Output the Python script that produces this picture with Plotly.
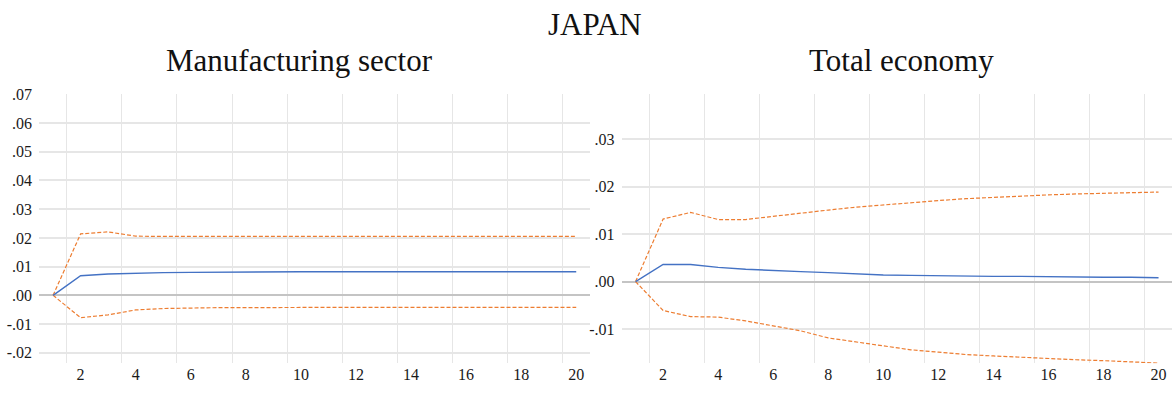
import plotly.graph_objects as go

periods = list(range(1, 21))

# Manufacturing sector
mfg_resp = [0.0, 0.0068, 0.0074, 0.0077, 0.0079, 0.0080, 0.0081, 0.0081, 0.0082, 0.0082,
            0.0082, 0.0082, 0.0082, 0.0082, 0.0082, 0.0082, 0.0082, 0.0082, 0.0082, 0.0082]
mfg_upper = [0.0, 0.0214, 0.0221, 0.0206, 0.0205, 0.0205, 0.0205, 0.0205, 0.0205, 0.0205,
             0.0205, 0.0205, 0.0205, 0.0205, 0.0205, 0.0205, 0.0205, 0.0205, 0.0205, 0.0205]
mfg_lower = [0.0, -0.0078, -0.0068, -0.0051, -0.0046, -0.0044, -0.0043, -0.0043, -0.0042, -0.0042,
             -0.0042, -0.0042, -0.0042, -0.0042, -0.0042, -0.0042, -0.0042, -0.0042, -0.0042, -0.0042]

# Total economy
tot_resp = [0.0, 0.0036, 0.0036, 0.0030, 0.0026, 0.0023, 0.0021, 0.0019, 0.0016, 0.0014,
            0.0013, 0.0012, 0.0012, 0.0011, 0.0011, 0.0010, 0.0010, 0.0009, 0.0009, 0.0008]
tot_upper = [0.0, 0.0132, 0.0146, 0.0131, 0.0131, 0.0138, 0.0145, 0.0151, 0.0157, 0.0162,
             0.0167, 0.0171, 0.0175, 0.0178, 0.0181, 0.0183, 0.0185, 0.0186, 0.0188, 0.0189]
tot_lower = [0.0, -0.0061, -0.0074, -0.0075, -0.0083, -0.0093, -0.0104, -0.0119, -0.0127, -0.0136,
             -0.0144, -0.0149, -0.0154, -0.0157, -0.0160, -0.0163, -0.0165, -0.0167, -0.0170, -0.0172]

x_tick_vals = [2, 4, 6, 8, 10, 12, 14, 16, 18, 20]
x_grid_vals = [1.5, 3.5, 5.5, 7.5, 9.5, 11.5, 13.5, 15.5, 17.5, 19.5]
mfg_yticks = [-0.02, -0.01, 0.0, 0.01, 0.02, 0.03, 0.04, 0.05, 0.06, 0.07]
mfg_ytext = ["-.02", "-.01", ".00", ".01", ".02", ".03", ".04", ".05", ".06", ".07"]
tot_yticks = [-0.01, 0.0, 0.01, 0.02, 0.03]
tot_ytext = ["-.01", ".00", ".01", ".02", ".03"]

BLUE = "#4472C4"
ORANGE = "#ED7D31"
FONT = "Liberation Serif"

fig = go.Figure()

def add_panel(xa, ya, resp, upper, lower):
    fig.add_trace(go.Scatter(x=periods, y=upper, mode="lines", xaxis=xa, yaxis=ya,
                             line=dict(color=ORANGE, width=1.2, dash="4px,2px"), showlegend=False))
    fig.add_trace(go.Scatter(x=periods, y=lower, mode="lines", xaxis=xa, yaxis=ya,
                             line=dict(color=ORANGE, width=1.2, dash="4px,2px"), showlegend=False))
    fig.add_trace(go.Scatter(x=periods, y=resp, mode="lines", xaxis=xa, yaxis=ya,
                             line=dict(color=BLUE, width=1.4), showlegend=False))

add_panel("x", "y", mfg_resp, mfg_upper, mfg_lower)
add_panel("x2", "y2", tot_resp, tot_upper, tot_lower)

W, H = 1176, 394
left_dom = [39.3 / W, 590.0 / W]
right_dom = [621.8 / W, 1172.3 / W]
y_dom = [1 - 362.7 / H, 1 - 87.3 / H]
xr = [0.5, 20.5]
tickfont = dict(family=FONT, size=16, color="#1a1a1a")
GRID = "#e6e6e6"

xcommon = dict(range=xr, tickmode="array", tickvals=x_tick_vals, showgrid=False,
               zeroline=False, showline=False, ticks="",
               tickfont=tickfont,
               minor=dict(tickmode="array", tickvals=x_grid_vals, showgrid=True,
                          gridcolor=GRID, gridwidth=1.2, ticks=""))

ycommon = dict(showgrid=True, gridcolor=GRID, gridwidth=1.5, zeroline=True,
               zerolinecolor="#c4c4c4", zerolinewidth=1.5, showline=False,
               ticks="outside", ticklen=3, tickcolor="rgba(0,0,0,0)", tickfont=tickfont,
               tickmode="array")

fig.update_layout(
    width=W, height=H,
    margin=dict(l=0, r=0, t=0, b=0),
    font=dict(family=FONT, color="#1a1a1a"),
    paper_bgcolor="white", plot_bgcolor="white",
    xaxis=dict(domain=left_dom, anchor="y", **xcommon),
    xaxis2=dict(domain=right_dom, anchor="y2", **xcommon),
    yaxis=dict(domain=y_dom, anchor="x", range=[-0.0237, 0.0703],
               tickvals=mfg_yticks, ticktext=mfg_ytext, **ycommon),
    yaxis2=dict(domain=y_dom, anchor="x2", range=[-0.01726, 0.0397],
                tickvals=tot_yticks, ticktext=tot_ytext, **ycommon),
    annotations=[
        dict(text="JAPAN", x=595 / W, y=1 - 17 / H, xref="paper", yref="paper",
             xanchor="center", yanchor="middle", showarrow=False,
             font=dict(family=FONT, size=31, color="#111111")),
        dict(text="Manufacturing sector", x=299 / W, y=1 - 54 / H, xref="paper", yref="paper",
             xanchor="center", yanchor="middle", showarrow=False,
             font=dict(family=FONT, size=31, color="#111111")),
        dict(text="Total economy", x=901 / W, y=1 - 54 / H, xref="paper", yref="paper",
             xanchor="center", yanchor="middle", showarrow=False,
             font=dict(family=FONT, size=31, color="#111111")),
    ],
)

fig.write_html("out.html")
